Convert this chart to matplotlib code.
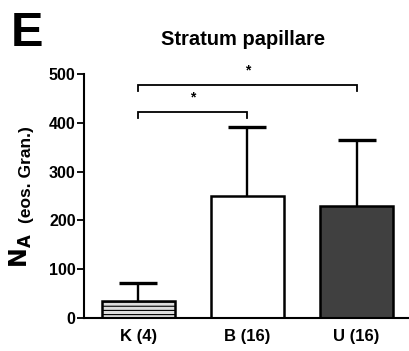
import matplotlib
matplotlib.use("Agg")
import matplotlib.pyplot as plt

# data
groups = ["K (4)", "B (16)", "U (16)"]
means = [34, 251, 229]
sd_upper = [38, 140, 136]
fills = ["#dcdcdc", "#ffffff", "#404040"]
hatches = ["----", "", ""]

# significance brackets: (left group, right group, height, star height)
brackets = [(0, 1, 422, 452), (0, 2, 477, 508)]

plt.rcParams["font.family"] = ["Liberation Sans", "DejaVu Sans"]
plt.rcParams["font.weight"] = "bold"
plt.rcParams["hatch.color"] = "#333333"
plt.rcParams["hatch.linewidth"] = 0.8

fig = plt.figure(figsize=(4.09, 3.51), dpi=100)
ax = fig.add_axes([0.2054, 0.094, 0.7946, 0.695])

x = list(range(len(groups)))
bars = ax.bar(x, means, width=0.665, color=fills, edgecolor="black",
              linewidth=1.8, zorder=2)
for b, h in zip(bars, hatches):
    b.set_hatch(h)

# only the upper half of the error bars
_, caps, _ = ax.errorbar(x, means, yerr=[[0] * len(x), sd_upper], fmt="none",
                         ecolor="black", elinewidth=1.7, capsize=13.5,
                         capthick=2.4, zorder=1)
caps[0].set_visible(False)   # drop the cap sitting on the bar top

for i, j, h, hs in brackets:
    ax.plot([i, i, j, j], [h - 12, h, h, h - 12], color="black", lw=1.3,
            clip_on=False, solid_joinstyle="miter")
    ax.text((i + j) / 2, hs, "*", ha="center", va="center", fontsize=10,
            clip_on=False)

ax.set_xlim(-0.498, 2.48)
ax.set_ylim(0, 500)
ax.set_yticks([0, 100, 200, 300, 400, 500])
ax.set_xticks(x)
ax.set_xticklabels(groups)
ax.tick_params(axis="x", length=0, pad=8, labelsize=12)
ax.tick_params(axis="y", length=5, width=1.3, pad=1, labelsize=11.5)
for lab in ax.get_xticklabels() + ax.get_yticklabels():
    lab.set_fontweight("bold")

ax.spines["top"].set_visible(False)
ax.spines["right"].set_visible(False)
ax.spines["left"].set_linewidth(1.5)
ax.spines["bottom"].set_linewidth(1.5)

# labels and titles
fig.text(243 / 409, 1 - 45 / 351, "Stratum papillare", ha="center",
         va="baseline", fontsize=14.5, fontweight="bold")
fig.text(11 / 409, 1 - 46 / 351, "E", ha="left", va="baseline",
         fontsize=35, fontweight="bold")
fig.text(21 / 409, 1 - 251 / 351, r"$\mathbf{N_A}$", rotation=90,
         ha="center", va="center", fontsize=17)
fig.text(26 / 409, 1 - 175 / 351, "(eos. Gran.)", rotation=90,
         ha="center", va="center", fontsize=12.5, fontweight="bold")

fig.savefig("out.png", dpi=100)
